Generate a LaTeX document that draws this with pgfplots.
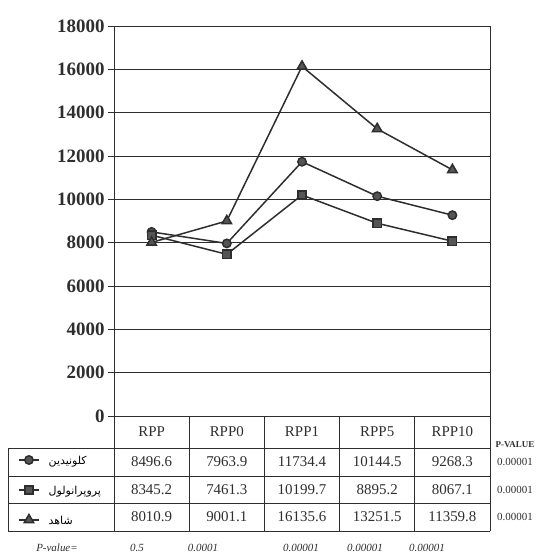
\documentclass[border=0pt]{standalone}
\usepackage{fontspec}
\setmainfont{Liberation Serif}
\newfontfamily\arabicfont[Script=Arabic]{DejaVu Sans}
\TeXXeTstate=1
\usepackage{pgfplots}
\pgfplotsset{compat=1.18}
\definecolor{ink}{HTML}{2E2E2E}
\definecolor{markfill}{HTML}{555555}
\begin{document}
\begin{tikzpicture}[x=1bp,y=1bp]
\useasboundingbox (0,0) rectangle (538,560);
\begin{axis}[
  at={(114bp,144bp)}, anchor=south west,
  scale only axis, width=376bp, height=390bp,
  xmin=-0.5, xmax=4.5, ymin=0, ymax=18000,
  xtick=\empty,
  ytick={0,2000,...,18000},
  ytick pos=left,
  ymajorgrids,
  grid style={ink, line width=0.8bp},
  axis line style={ink, line width=0.9bp},
  tick style={ink, line width=0.8bp},
  ytick align=outside, major tick length=6bp,
  scaled y ticks=false,
  /pgf/number format/fixed, /pgf/number format/1000 sep={}, /pgf/number format/assume math mode=true,
  yticklabel style={font=\bfseries\fontsize{19}{19}\selectfont, text=ink},
  every axis plot/.append style={line width=1.5bp, color=ink},
  legend image code/.code={\draw[mark repeat=2,mark phase=2,#1] plot coordinates {(0bp,0bp) (10bp,0bp) (20bp,0bp)};},
  legend style={at={(-0.2553,-0.1897)}, anchor=west, draw=none, fill=none, inner sep=0pt,
    row sep=14bp, font=\arabicfont\fontsize{11}{11}\selectfont,
    nodes={text height=9bp, text depth=5bp, inner sep=1pt},
    /tikz/every odd column/.append style={column sep=8bp}},
  legend cell align=left,
  clip=false,
]
\addplot[mark=*, mark size=4.2bp, mark options={fill=markfill, draw=ink}] coordinates {(0,8496.6) (1,7963.9) (2,11734.4) (3,10144.5) (4,9268.3)};
\addlegendentry{\raisebox{-2.5bp}{\beginR کلونیدین\endR}}
\addplot[mark=square*, mark size=4.2bp, mark options={fill=markfill, draw=ink}] coordinates {(0,8345.2) (1,7461.3) (2,10199.7) (3,8895.2) (4,8067.1)};
\addlegendentry{\raisebox{-2.5bp}{\beginR پروپرانولول\endR}}
\addplot[mark=triangle*, mark size=5.5bp, mark options={fill=markfill, draw=ink}] coordinates {(0,8010.9) (1,9001.1) (2,16135.6) (3,13251.5) (4,11359.8)};
\addlegendentry{\raisebox{-2.5bp}{\beginR شاهد\endR}}
\end{axis}
% table lines
\begin{scope}[ink, line width=0.9bp]
\foreach \x in {114,189.2,264.4,339.6,414.8,490} \draw (\x,144) -- (\x,29);
\draw (8,112) -- (490,112);
\draw (8,84) -- (490,84);
\draw (8,57) -- (490,57);
\draw (8,29) -- (490,29);
\draw (8,112) -- (8,29);
\end{scope}
% header
\begin{scope}[every node/.style={text=ink, font=\fontsize{15}{15}\selectfont}]
\foreach \x/\t in {151.6/RPP,226.8/RPP0,302/RPP1,377.2/RPP5,452.4/RPP10}
  \node at (\x,128) {\t};
\foreach \x/\t in {151.6/8496.6,226.8/7963.9,302/11734.4,377.2/10144.5,452.4/9268.3}
  \node at (\x,98) {\t};
\foreach \x/\t in {151.6/8345.2,226.8/7461.3,302/10199.7,377.2/8895.2,452.4/8067.1}
  \node at (\x,70) {\t};
\foreach \x/\t in {151.6/8010.9,226.8/9001.1,302/16135.6,377.2/13251.5,452.4/11359.8}
  \node at (\x,43) {\t};
\end{scope}
\begin{scope}[every node/.style={text=ink, font=\fontsize{11}{11}\selectfont}]
\node[font=\fontsize{9}{9}\selectfont\bfseries] at (515,115) {P-VALUE};
\node at (515,98) {0.00001};
\node at (515,70) {0.00001};
\node at (515,43) {0.00001};
\end{scope}
\begin{scope}[every node/.style={text=ink, font=\itshape\fontsize{11}{11}\selectfont}]
\node at (57,12) {P-value=};
\node at (137,12) {0.5};
\node at (203,12) {0.0001};
\node at (301,12) {0.00001};
\node at (365,12) {0.00001};
\node at (427,12) {0.00001};
\end{scope}
\end{tikzpicture}
\end{document}
